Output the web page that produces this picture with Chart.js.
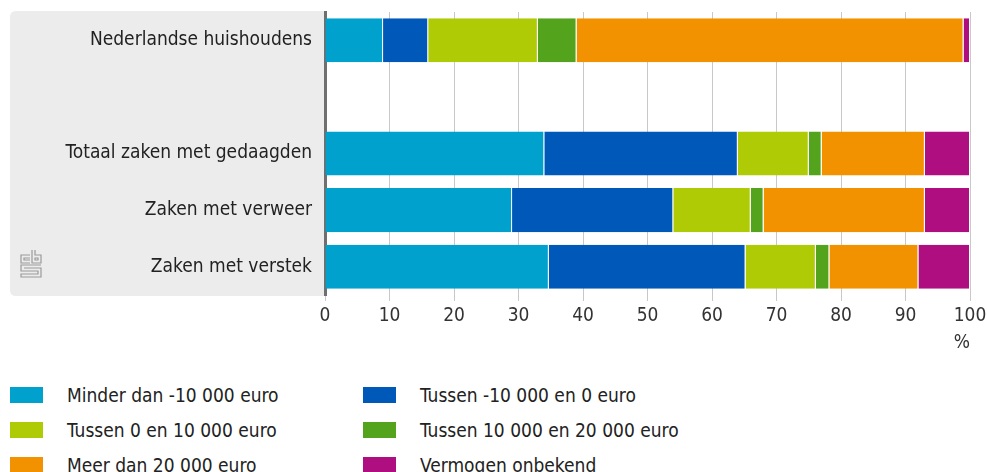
<!DOCTYPE html>
<html>
<head>
<meta charset="utf-8">
<script src="https://cdn.jsdelivr.net/npm/chart.js@4"></script>
<style>
  html, body { margin: 0; padding: 0; background: #fff; }
  body { width: 987px; height: 472px; position: relative; overflow: hidden; font-family: 'DejaVu Sans Condensed', 'Liberation Sans Narrow', Roboto, sans-serif; }
  #wrap { position: absolute; left: 0; top: 0; width: 987px; height: 354px; }
  #legend { position: absolute; left: 10px; top: 384px; width: 960px; }
  .item { position: absolute; height: 22px; display: flex; align-items: center; font-size: 19px; color: #222; white-space: nowrap; }
  .box { width: 33px; height: 16px; margin-right: 24px; flex: none; }
</style>
</head>
<body>
<div id="wrap"><canvas id="c"></canvas></div>
<div id="legend"></div>
<script>
const categories = ['Nederlandse huishoudens', '', 'Totaal zaken met gedaagden', 'Zaken met verweer', 'Zaken met verstek'];
const seriesNames = ['Minder dan -10 000 euro', 'Tussen -10 000 en 0 euro', 'Tussen 0 en 10 000 euro', 'Tussen 10 000 en 20 000 euro', 'Meer dan 20 000 euro', 'Vermogen onbekend'];
const seriesColors = ['#00a1cd', '#0058b8', '#afcb05', '#53a31d', '#f39200', '#af0e80'];
const minderDan10000 = [9, null, 34, 29, 34.7];
const tussenMin10000En0 = [7, null, 30, 25, 30.5];
const tussen0En10000 = [17, null, 11, 12, 10.9];
const tussen10000En20000 = [6, null, 2, 2, 2.1];
const meerDan20000 = [60, null, 16, 25, 13.8];
const vermogenOnbekend = [1, null, 7, 7, 8.0];
const xTicks = [0, 10, 20, 30, 40, 50, 60, 70, 80, 90, 100];
const axisUnit = '%';

const seriesValues = [minderDan10000, tussenMin10000En0, tussen0En10000, tussen10000En20000, meerDan20000, vermogenOnbekend];
const FONT = "'DejaVu Sans Condensed', 'Liberation Sans Narrow', Roboto, sans-serif";

const panelPlugin = {
  id: 'panel',
  beforeDraw(chart) {
    const ctx = chart.ctx, a = chart.chartArea;
    const x0 = 10, y0 = a.top - 1, x1 = a.left, y1 = a.bottom + 1, r = 6;
    ctx.save();
    ctx.fillStyle = '#ececec';
    ctx.beginPath();
    ctx.moveTo(x1, y0);
    ctx.lineTo(x0 + r, y0);
    ctx.quadraticCurveTo(x0, y0, x0, y0 + r);
    ctx.lineTo(x0, y1 - r);
    ctx.quadraticCurveTo(x0, y1, x0 + r, y1);
    ctx.lineTo(x1, y1);
    ctx.closePath();
    ctx.fill();
    // CBS logo (simplified)
    const lx = 21, ly = a.bottom - 45;
    ctx.strokeStyle = '#9a9a9a';
    ctx.lineWidth = 1.2;
    ctx.beginPath();
    // c
    ctx.moveTo(lx + 9, ly + 5); ctx.lineTo(lx, ly + 5); ctx.lineTo(lx, ly + 13); ctx.lineTo(lx + 9, ly + 13);
    ctx.moveTo(lx + 9, ly + 8); ctx.lineTo(lx + 3, ly + 8); ctx.lineTo(lx + 3, ly + 10); ctx.lineTo(lx + 9, ly + 10);
    // b
    ctx.moveTo(lx + 11, ly); ctx.lineTo(lx + 11, ly + 13); ctx.lineTo(lx + 20, ly + 13); ctx.lineTo(lx + 20, ly + 5); ctx.lineTo(lx + 14, ly + 5); ctx.lineTo(lx + 14, ly);
    ctx.moveTo(lx + 14, ly + 8); ctx.lineTo(lx + 17, ly + 8); ctx.lineTo(lx + 17, ly + 10); ctx.lineTo(lx + 14, ly + 10); ctx.closePath();
    // s
    ctx.moveTo(lx + 20, ly + 15); ctx.lineTo(lx, ly + 15); ctx.lineTo(lx, ly + 21); ctx.lineTo(lx + 17, ly + 21); ctx.lineTo(lx + 17, ly + 24); ctx.lineTo(lx, ly + 24); ctx.lineTo(lx, ly + 27); ctx.lineTo(lx + 20, ly + 27); ctx.lineTo(lx + 20, ly + 18); ctx.lineTo(lx + 3, ly + 18);
    ctx.stroke();
    ctx.restore();
  }
};

const chart = new Chart(document.getElementById('c'), {
  type: 'bar',
  data: {
    labels: categories,
    datasets: seriesNames.map((n, i) => ({
      label: n,
      data: seriesValues[i],
      backgroundColor: seriesColors[i],
      borderColor: '#ffffff',
      borderWidth: { left: 0, right: 1, top: 0, bottom: 0 },
      borderSkipped: false,
      categoryPercentage: 1,
      barPercentage: 0.78
    }))
  },
  options: {
    indexAxis: 'y',
    responsive: true,
    maintainAspectRatio: false,
    animation: false,
    layout: { padding: { left: 0, right: 17, top: 12, bottom: 0 } },
    plugins: { legend: { display: false }, tooltip: { enabled: false } },
    scales: {
      x: {
        stacked: true,
        min: 0, max: 100,
        afterBuildTicks(scale) { scale.ticks = xTicks.map(v => ({ value: v })); },
        ticks: { color: '#333', font: { family: FONT, size: 19 }, padding: 4, maxRotation: 0 },
        grid: { color: '#c8c8c8', lineWidth: 1, tickLength: 6, drawOnChartArea: true },
        border: { display: false },
        title: { display: true, text: axisUnit, align: 'end', color: '#333', font: { family: FONT, size: 19 }, padding: { top: 2, bottom: 0 } },
        afterFit(scale) { scale.height = 59; scale.paddingLeft = 0; scale.paddingRight = 0; }
      },
      y: {
        stacked: true,
        ticks: { color: '#222', font: { family: FONT, size: 19 }, padding: 13 },
        grid: { display: false, drawTicks: false },
        border: { display: true, color: '#6f6f6f', width: 3 },
        afterFit(scale) { scale.width = 325; scale.paddingTop = 0; scale.paddingBottom = 0; }
      }
    }
  },
  plugins: [panelPlugin]
});

// legend built from chart datasets
const leg = document.getElementById('legend');
chart.data.datasets.forEach((ds, i) => {
  const el = document.createElement('div');
  el.className = 'item';
  el.style.left = (i % 2 === 0 ? 0 : 353) + 'px';
  el.style.top = (Math.floor(i / 2) * 35) + 'px';
  el.innerHTML = '<span class="box" style="background:' + ds.backgroundColor + '"></span><span>' + ds.label + '</span>';
  leg.appendChild(el);
});
</script>
</body>
</html>
